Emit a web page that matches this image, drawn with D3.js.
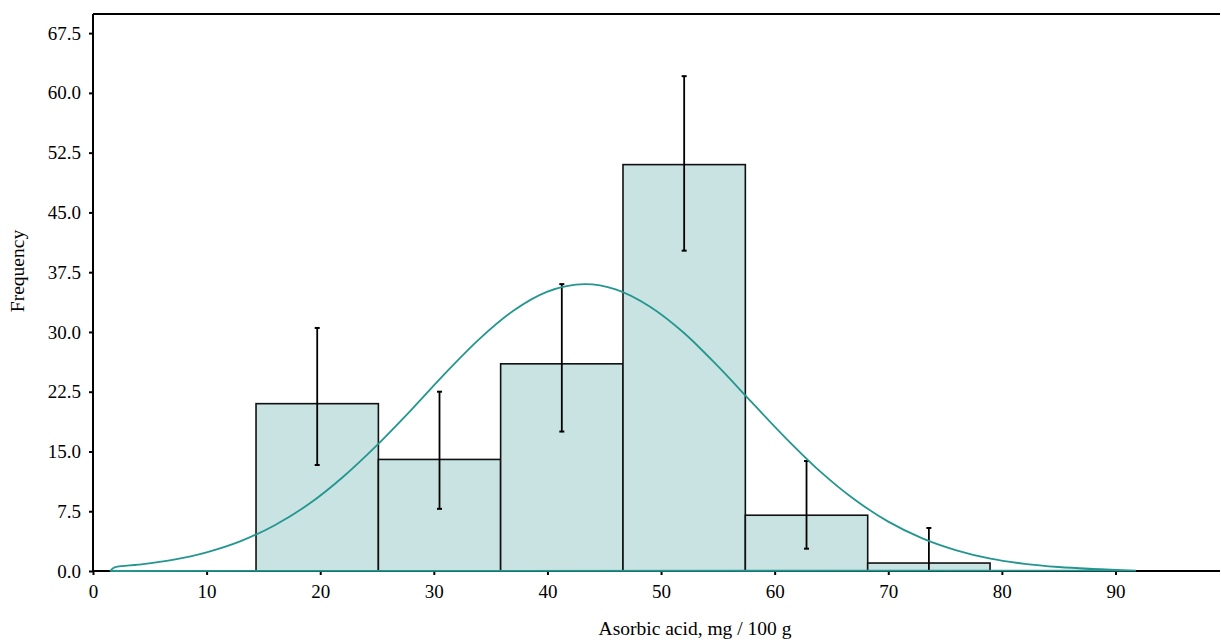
<!DOCTYPE html>
<html>
<head>
<meta charset="utf-8">
<script src="https://cdn.jsdelivr.net/npm/d3@7"></script>
<style>
  body { margin: 0; background: #fff; }
  text { font-family: "Liberation Serif", "Times New Roman", serif; fill: #000; }
</style>
</head>
<body>
<div id="chart"></div>
<script>
// histogram bins (bin edges in mg / 100 g) and counts
var binEdges = [14.35, 25.12, 35.88, 46.65, 57.42, 68.19, 78.96];
var counts = [21, 14, 26, 51, 7, 1];
// error bar ends
var errLow = [13.3, 7.8, 17.5, 40.2, 2.8, 0];
var errHigh = [30.5, 22.5, 36.0, 62.1, 13.8, 5.4];

// fitted curve, read point by point
var curveX = [1.5, 1.9, 4, 7, 10, 13, 16, 19, 22, 25, 28, 31, 34, 37, 40, 43.3,
              46, 49, 52, 55, 58, 61, 64, 67, 70, 73, 76, 79, 82, 85, 88, 91.8];
var curveY = [0, 0.47, 0.8, 1.4, 2.35, 3.75, 5.75, 8.4, 11.8, 15.8, 20.2, 24.8, 29.1, 32.65, 35.05, 36.0,
              35.35, 33.2, 29.9, 25.7, 21.15, 16.65, 12.5, 9.0, 6.2, 4.1, 2.6, 1.55, 0.9, 0.5, 0.26, 0.05];

var yTicks = [0, 7.5, 15, 22.5, 30, 37.5, 45, 52.5, 60, 67.5];
var xTicks = [0, 10, 20, 30, 40, 50, 60, 70, 80, 90];

var margin = { top: 14, right: 1, bottom: 69, left: 93 },
    width = 1221 - margin.left - margin.right,
    height = 640 - margin.top - margin.bottom;

var x = d3.scaleLinear().domain([0, 99.2]).range([0, width]);
var y = d3.scaleLinear().domain([0, 69.9]).range([height, 0]);

var svg = d3.select("#chart").append("svg")
    .attr("width", width + margin.left + margin.right)
    .attr("height", height + margin.top + margin.bottom)
    .append("g")
    .attr("transform", "translate(" + margin.left + "," + margin.top + ")");

var bins = counts.map(function (c, i) {
    return { x0: binEdges[i], x1: binEdges[i + 1], n: c, lo: errLow[i], hi: errHigh[i] };
});

svg.selectAll(".bar")
    .data(bins)
    .enter().append("rect")
    .attr("class", "bar")
    .attr("x", function (d) { return x(d.x0); })
    .attr("width", function (d) { return x(d.x1) - x(d.x0); })
    .attr("y", function (d) { return y(d.n); })
    .attr("height", function (d) { return height - y(d.n); })
    .attr("fill", "#c8e3e2")
    .attr("stroke", "#111")
    .attr("stroke-width", 1.6);

// error bars
var err = svg.selectAll(".err")
    .data(bins)
    .enter().append("g")
    .attr("class", "err");

err.append("line")
    .attr("x1", function (d) { return x((d.x0 + d.x1) / 2); })
    .attr("x2", function (d) { return x((d.x0 + d.x1) / 2); })
    .attr("y1", function (d) { return y(d.lo); })
    .attr("y2", function (d) { return y(d.hi); })
    .attr("stroke", "#000")
    .attr("stroke-width", 1.8);

err.selectAll(".cap")
    .data(function (d) { return [[d, d.lo], [d, d.hi]]; })
    .enter().append("line")
    .attr("class", "cap")
    .attr("x1", function (p) { return x((p[0].x0 + p[0].x1) / 2) - 2.5; })
    .attr("x2", function (p) { return x((p[0].x0 + p[0].x1) / 2) + 2.5; })
    .attr("y1", function (p) { return y(p[1]); })
    .attr("y2", function (p) { return y(p[1]); })
    .attr("stroke", "#000")
    .attr("stroke-width", 2);

// axes
var yAxis = svg.append("g")
    .call(d3.axisLeft(y).tickValues(yTicks).tickFormat(d3.format(".1f")).tickSize(4).tickPadding(8));
var xAxis = svg.append("g")
    .attr("transform", "translate(0," + height + ")")
    .call(d3.axisBottom(x).tickValues(xTicks).tickSize(4).tickPadding(10));

[yAxis, xAxis].forEach(function (a) {
    a.select(".domain").attr("stroke", "#000").attr("stroke-width", 2);
    a.selectAll(".tick line").attr("stroke", "#000").attr("stroke-width", 2);
    a.selectAll("text").style("font-size", "19px").attr("fill", "#000");
});
yAxis.select(".domain").attr("d", "M0," + height + "V0");
xAxis.select(".domain").attr("d", "M0,0H" + width);

// top border
svg.append("line")
    .attr("x1", 0).attr("x2", width)
    .attr("y1", 0).attr("y2", 0)
    .attr("stroke", "#000")
    .attr("stroke-width", 2);

// fitted curve, closed back along the baseline
var pts = curveX.map(function (v, i) { return [v, curveY[i]]; });
var line = d3.line()
    .x(function (d) { return x(d[0]); })
    .y(function (d) { return y(d[1]); })
    .curve(d3.curveMonotoneX);

svg.append("path")
    .attr("d", line(pts) + "L" + x(curveX[0]) + "," + y(0))
    .attr("fill", "none")
    .attr("stroke", "#24968f")
    .attr("stroke-width", 1.8);

// axis titles
svg.append("text")
    .attr("x", 695 - margin.left)
    .attr("y", height + 64)
    .attr("text-anchor", "middle")
    .style("font-size", "19.5px")
    .text("Asorbic acid, mg / 100 g");

svg.append("text")
    .attr("transform", "translate(" + (24 - margin.left) + "," + (271 - margin.top) + ") rotate(-90)")
    .attr("text-anchor", "middle")
    .style("font-size", "19.5px")
    .text("Frequency");
</script>
</body>
</html>
